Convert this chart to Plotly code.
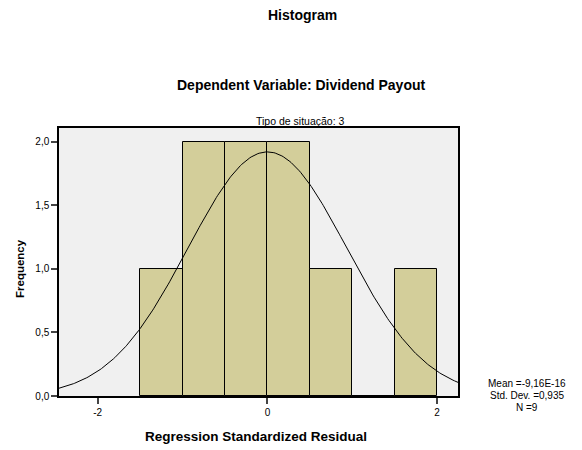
import numpy as np
import plotly.graph_objects as go

bin_left = [-1.5, -1.0, -0.5, 0.0, 0.5, 1.0, 1.5]
counts = [1, 2, 2, 2, 1, 0, 1]
bin_width = 0.5
mean = -9.16e-16
std = 0.935
n = 9
x_ticks = [-2, 0, 2]
y_ticks = [0, 0.5, 1.0, 1.5, 2.0]

x_centers = [b + bin_width / 2 for b in bin_left]
xs = np.linspace(-2.46, 2.25, 300)
ys = n * bin_width / (std * np.sqrt(2 * np.pi)) * np.exp(-0.5 * ((xs - mean) / std) ** 2)

font = "Liberation Sans, Arial, sans-serif"
W, H = 574, 442  # page body has an 8px margin
L, R, T, B = 51, 124, 120, 54
pw = W - L - R
ph = H - T - B

fig = go.Figure()
fig.add_trace(go.Bar(x=x_centers, y=counts, width=bin_width,
                     marker=dict(color="#D3CE9A", line=dict(color="black", width=1)),
                     showlegend=False, hoverinfo="skip"))
fig.add_trace(go.Scatter(x=xs, y=ys, mode="lines", line=dict(color="black", width=1),
                         showlegend=False, hoverinfo="skip"))


def ann(text, px, py, size, angle=0):
    return dict(text=text, x=(px - 8 - L) / pw, y=1 - (py - 8 - T) / ph,
                xref="paper", yref="paper", showarrow=False, textangle=angle,
                xanchor="center", yanchor="middle", font=dict(size=size, color="black"))


fig.update_layout(
    width=W, height=H,
    margin=dict(l=L, r=R, t=T, b=B),
    paper_bgcolor="white", plot_bgcolor="#F0F0F0",
    separators=",.",
    font=dict(family=font, color="black", size=10),
    bargap=0,
    xaxis=dict(range=[-2.456, 2.246], tickvals=x_ticks, ticktext=[str(v) for v in x_ticks],
               ticks="outside", ticklen=6, tickcolor="#444", tickwidth=1.5,
               showgrid=False, zeroline=False,
               showline=True, linecolor="black", linewidth=1.5, mirror=True,
               tickfont=dict(size=10)),
    yaxis=dict(range=[0, 2.108], tickvals=y_ticks, tickformat=".1f",
               ticks="outside", ticklen=6, tickcolor="#444", tickwidth=1.5,
               showgrid=False, zeroline=False,
               showline=True, linecolor="black", linewidth=1.5, mirror=True,
               tickfont=dict(size=10)),
    annotations=[
        ann("<b>Histogram</b>", 302, 15, 14),
        ann("<b>Dependent Variable: Dividend Payout</b>", 301, 85, 14),
        ann("Tipo de situação: 3", 300, 121, 10.5),
        ann("<b>Frequency</b>", 20, 269, 11.5, -90),
        ann("<b>Regression Standardized Residual</b>", 256, 436, 13.5),
        ann("Mean =-9,16E-16", 527, 383, 10),
        ann("Std. Dev. =0,935", 527, 395, 10),
        ann("N =9", 527, 407, 10),
    ],
)

fig.write_html("out.html")
